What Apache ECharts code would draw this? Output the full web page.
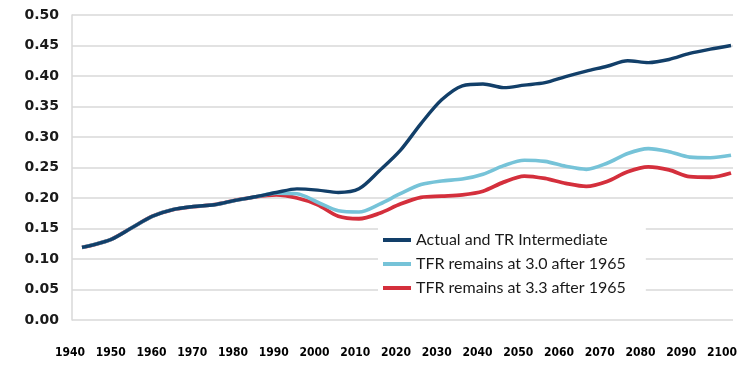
<!DOCTYPE html>
<html>
<head>
<meta charset="utf-8">
<script src="https://cdn.jsdelivr.net/npm/echarts@6/dist/echarts.min.js"></script>
<style>
  html, body { margin: 0; padding: 0; background: #fff; }
  #main { width: 740px; height: 377px; }
</style>
</head>
<body>
<div id="main"></div>
<script>
// years of the projection (data points)
const years = [1943, 1945, 1950, 1955, 1960, 1965, 1970, 1975, 1980, 1985, 1990, 1995,
  2000, 2005, 2010, 2015, 2020, 2025, 2030, 2035, 2040, 2045, 2050, 2055,
  2060, 2065, 2070, 2075, 2080, 2085, 2090, 2095, 2100];

const actualIntermediate = [0.119, 0.122, 0.132, 0.151, 0.170, 0.181, 0.186, 0.189, 0.196, 0.202, 0.209, 0.215,
  0.213, 0.209, 0.215, 0.245, 0.278, 0.322, 0.361, 0.384, 0.387, 0.381, 0.385, 0.389,
  0.399, 0.408, 0.416, 0.425, 0.422, 0.427, 0.437, 0.444, 0.450];

const tfr30 = [0.119, 0.122, 0.132, 0.151, 0.170, 0.181, 0.186, 0.189, 0.196, 0.202, 0.208, 0.207,
  0.193, 0.179, 0.177, 0.190, 0.207, 0.222, 0.228, 0.231, 0.239, 0.253, 0.262, 0.260,
  0.252, 0.247, 0.257, 0.273, 0.281, 0.276, 0.267, 0.266, 0.270];

const tfr33 = [0.119, 0.122, 0.132, 0.151, 0.170, 0.181, 0.186, 0.189, 0.196, 0.202, 0.205, 0.200,
  0.189, 0.170, 0.166, 0.175, 0.190, 0.201, 0.203, 0.205, 0.211, 0.226, 0.236, 0.232,
  0.224, 0.219, 0.227, 0.243, 0.251, 0.246, 0.235, 0.234, 0.241];

// x tick labels (decades)
const decadeMin = 1940;
const decadeMax = 2100;

const seriesNames = ['Actual and TR Intermediate', 'TFR remains at 3.0 after 1965', 'TFR remains at 3.3 after 1965'];
const seriesColors = ['#123f69', '#76c3d8', '#d42f3c'];

function pairs(vals) {
  return years.map((y, i) => [y, vals[i]]);
}

const chart = echarts.init(document.getElementById('main'));

const option = {
  animation: false,
  backgroundColor: '#fff',
  grid: [
    { left: 72, right: 7, top: 15, bottom: 57 },
    { left: 70, right: 16.5, top: 15, bottom: 57 }
  ],
  legend: {
    data: seriesNames,
    orient: 'vertical',
    left: 378,
    top: 228,
    padding: [2, 20, 2, 5],
    itemGap: 4,
    itemWidth: 28,
    itemHeight: 4,
    icon: 'rect',
    backgroundColor: '#fff',
    textStyle: { fontFamily: 'Lato', fontSize: 16, color: '#1a1a1a', lineHeight: 20 }
  },
  xAxis: [
    { type: 'value', gridIndex: 0, min: 1940.58, max: 2100.48, show: false },
    {
      type: 'value', gridIndex: 1, min: decadeMin, max: decadeMax, interval: 10,
      axisLine: { show: false },
      axisTick: { show: false },
      splitLine: { show: false },
      axisLabel: {
        margin: 27,
        fontFamily: 'DejaVu Sans Condensed',
        fontWeight: 'bold',
        fontSize: 12,
        color: '#000',
        formatter: v => String(v)
      }
    }
  ],
  yAxis: [
    {
      type: 'value', gridIndex: 0, min: 0, max: 0.5, interval: 0.05,
      axisLine: { show: true, lineStyle: { color: '#d9d9d9', width: 1.5 } },
      axisTick: { show: false },
      splitLine: { lineStyle: { color: '#d9d9d9', width: 1.5 } },
      axisLabel: {
        margin: 13,
        fontFamily: 'DejaVu Sans',
        fontWeight: 'bold',
        fontSize: 14,
        color: '#1a1a1a',
        formatter: v => v.toFixed(2)
      }
    },
    { type: 'value', gridIndex: 1, show: false }
  ],
  series: [
    {
      name: seriesNames[0], type: 'line', xAxisIndex: 0, yAxisIndex: 0,
      data: pairs(actualIntermediate), smooth: 0.3, showSymbol: false, z: 4,
      color: seriesColors[0], lineStyle: { width: 3.4, color: seriesColors[0] }
    },
    {
      name: seriesNames[1], type: 'line', xAxisIndex: 0, yAxisIndex: 0,
      data: pairs(tfr30), smooth: 0.3, showSymbol: false, z: 3,
      color: seriesColors[1], lineStyle: { width: 3.6, color: seriesColors[1] }
    },
    {
      name: seriesNames[2], type: 'line', xAxisIndex: 0, yAxisIndex: 0,
      data: pairs(tfr33), smooth: 0.3, showSymbol: false, z: 2,
      color: seriesColors[2], lineStyle: { width: 3.8, color: seriesColors[2] }
    }
  ]
};

chart.setOption(option);
</script>
</body>
</html>
